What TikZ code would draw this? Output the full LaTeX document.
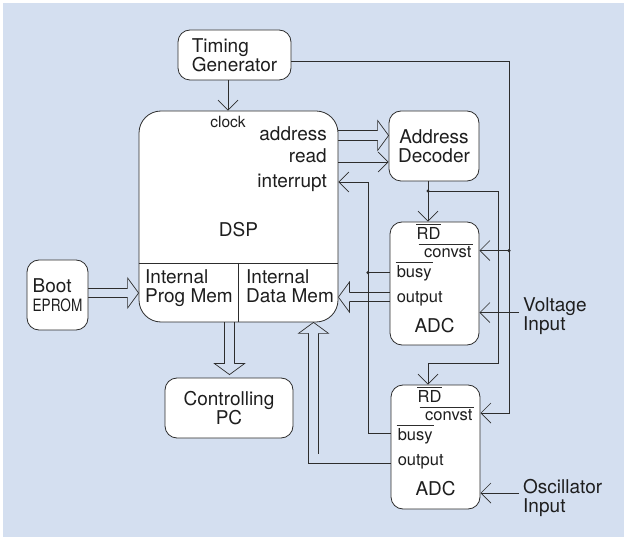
\documentclass[tikz,border=0pt]{standalone}
\usepackage{fontspec}
\usepackage{graphicx}
\setmainfont{TeX Gyre Heros}
\usetikzlibrary{arrows.meta,calc}
\pgfdeclarelayer{bglay}
\pgfdeclarelayer{midlay}
\pgfsetlayers{bglay,midlay,main}
\definecolor{bgc}{RGB}{212,223,240}
\definecolor{lc}{RGB}{45,45,45}
\definecolor{tc}{RGB}{30,30,30}
\tikzset{
  pics/fathead/.style={code={
    \filldraw[draw=lc, fill=bgc, line width=0.7pt, line join=miter]
      (0,-4.75) -- (0,-15) -- (11,0) -- (0,15) -- (0,4.75);}}
}
\begin{document}
\begin{tikzpicture}[x=1pt,y=-1pt,
  box/.style={draw=lc, fill=white, line width=0.8pt, rounded corners=12pt, inner sep=0pt,
    align=center, text=tc, font=\fontsize{19}{19}\selectfont},
  lbl/.style={text=tc, inner sep=0pt, font=\fontsize{19}{19}\selectfont},
  sig/.style={text=tc, inner sep=0pt, font=\fontsize{16.5}{16.5}\selectfont},
  wire/.style={draw=lc, line width=0.7pt},
  arr/.style={wire, -{Straight Barb[length=10pt,width=20pt]}},
  fat/.style={draw=lc, line width=0.7pt, double=bgc, double distance=8.8pt, line join=miter},
  dotc/.style={fill=lc}
]
\begin{pgfonlayer}{bglay}
\fill[bgc] (3,3) rectangle (624,537);
\end{pgfonlayer}
\useasboundingbox (0,0) rectangle (624,537);

% boxes
\node[box, minimum width=113pt, minimum height=50pt, align=left] (timing) at (234.5,55) {Timing\\Generator};
\node[box, rounded corners=22pt, minimum width=199pt, minimum height=211pt] (dsp) at (238.5,216.5) {};
\node[box, minimum width=90pt, minimum height=70pt] (addr) at (434,146) {Address\\Decoder};
\node[box, minimum width=61pt, minimum height=70pt, align=left] (boot) at (57.5,295)
  {Boot\\{\fontsize{17}{19}\selectfont\scalebox{0.8}[1]{EPROM}}};
\node[box, minimum width=89pt, minimum height=123pt] (adc1) at (434.5,283.5) {};
\node[box, minimum width=89pt, minimum height=124pt] (adc2) at (435.5,447) {};
\node[box, minimum width=128pt, minimum height=60pt] (pc) at (229,408) {Controlling\\PC};

% DSP inner dividers and labels
\draw[wire] (dsp.west |- 0,263) coordinate (dvl) -- (dsp.east |- 0,263) coordinate (dvr);
\draw[wire] (238,263) coordinate (dvt) -- (dsp.south -| dvt) coordinate (dvb);
\node[text=tc, inner sep=0pt, font=\fontsize{15.5}{15.5}\selectfont, anchor=base] (lclk) at (228,127.5) {clock};
\node[lbl, anchor=base east] (laddr) at (327,140.5) {address};
\node[lbl, anchor=base east] (lread) at (327,162.5) {read};
\node[lbl, anchor=base east] (lint) at (327,187.5) {interrupt};
\node[lbl, anchor=base] (ldsp) at (238.5,237) {DSP};
\node[lbl, anchor=base west] (lpm1) at (145,284) {Internal};
\node[lbl, anchor=base west] (lpm2) at (145,303) {Prog Mem};
\node[lbl, anchor=base west] (ldm1) at (246,284) {Internal};
\node[lbl, anchor=base west] (ldm2) at (246,303) {Data Mem};

% ADC labels
\foreach \a in {adc1,adc2}{
\begin{scope}[shift={(\a.north west)}]
  \node[sig, anchor=base] (\a rd) at (39,18) {RD};
  \draw[wire] ($(\a rd.north west)+(0,-3.5)$) -- ($(\a rd.north east)+(0,-3.5)$);
  \draw[wire] (29,22.5) -- (83,22.5);
  \node[sig, anchor=base east] (\a cv) at (82,35.5) {convst};
  \draw[wire] (6,41) -- (43,41);
  \node[sig, anchor=base west] (\a bz) at (7,56) {busy};
  \node[sig, anchor=base west] (\a op) at (7,80.5) {output};
  \node[lbl, anchor=base] (\a nm) at (45,110.5) {ADC};
\end{scope}
}

% input labels
\node[lbl, align=left, anchor=west, inner xsep=4pt] (vin) at (519,316.5) {Voltage\\Input};
\node[lbl, align=left, anchor=west, inner xsep=4pt] (osc) at (519,498) {Oscillator\\Input};

% helper coordinates
\coordinate (xclk) at (228,0);
\coordinate (xT) at (509,0);
\coordinate (yT) at (0,61);
\coordinate (yc1) at ($(adc1.north)+(0,29)$);
\coordinate (yc2) at ($(adc2.north)+(0,28.5)$);
\coordinate (xRD) at (428,0);
\coordinate (yRD) at (0,191);
\coordinate (xRD2) at (498,0);
\coordinate (yRD2) at (0,363);
\coordinate (xI) at (368,0);
\coordinate (yI) at (0,182);
\coordinate (yb1) at ($(adc1.north)+(0,51)$);
\coordinate (yb2) at ($(adc2.north)+(0,49)$);
\coordinate (yR) at (0,162);
\coordinate (yv) at ($(adc1.north)+(0,91)$);
\coordinate (yo) at ($(adc2.north)+(0,108.5)$);

% thin wires
\draw[arr] (timing.south -| xclk) -- (dsp.north -| xclk);
\draw[arr] (timing.east |- yT) -| (xT |- yc2) -- (adc2.east |- yc2);
\draw[arr] (xT |- yc1) -- (adc1.east |- yc1);
\fill[dotc] (xT |- yc1) circle (1.7pt);
\draw[arr] (addr.south -| xRD) -- (adc1.north -| xRD);
\draw[arr] (xRD |- yRD) -| (xRD2 |- yRD2) -| (adc2.north -| xRD);
\fill[dotc] (xRD |- yRD) circle (1.7pt);
\draw[arr] (adc2.west |- yb2) -| (xI |- yI) -- (dsp.east |- yI);
\draw[wire] (adc1.west |- yb1) -- (xI |- yb1);
\fill[dotc] (xI |- yb1) circle (1.7pt);
\draw[arr] (dsp.east |- yR) -- (addr.west |- yR);
\draw[arr] (vin.west |- yv) -- (adc1.east |- yv);
\draw[arr] (osc.west |- yo) -- (adc2.east |- yo);

% fat (bus) arrows
\begin{pgfonlayer}{midlay}
\coordinate (yB) at (0,293);
\draw[fat] (boot.east |- yB) -- ($(dsp.west |- yB)+(-11,0)$) coordinate (hb);
\pic at (hb) {fathead};
\coordinate (yA) at (0,135.5);
\draw[fat] (dsp.east |- yA) -- ($(addr.west |- yA)+(-11,0)$) coordinate (ha);
\pic at (ha) {fathead};
\coordinate (yO1) at ($(adc1.north)+(0,75.5)$);
\draw[fat] (adc1.west |- yO1) -- ($(dsp.east |- yO1)+(11,0)$) coordinate (ho1);
\pic[rotate=180] at (ho1) {fathead};
\coordinate (yO2) at ($(adc2.north)+(0,74)$);
\coordinate (xO2) at (313.5,0);
\draw[fat] (adc2.west |- yO2) -| ($(dsp.south -| xO2)+(0,11)$) coordinate (ho2);
\pic[rotate=90] at (ho2) {fathead};
\coordinate (xP) at (229.5,0);
\draw[fat] (dsp.south -| xP) -- ($(pc.north -| xP)+(0,-14)$) coordinate (hp);
\pic[rotate=-90] at (hp) {fathead};
\end{pgfonlayer}
\end{tikzpicture}
\end{document}
